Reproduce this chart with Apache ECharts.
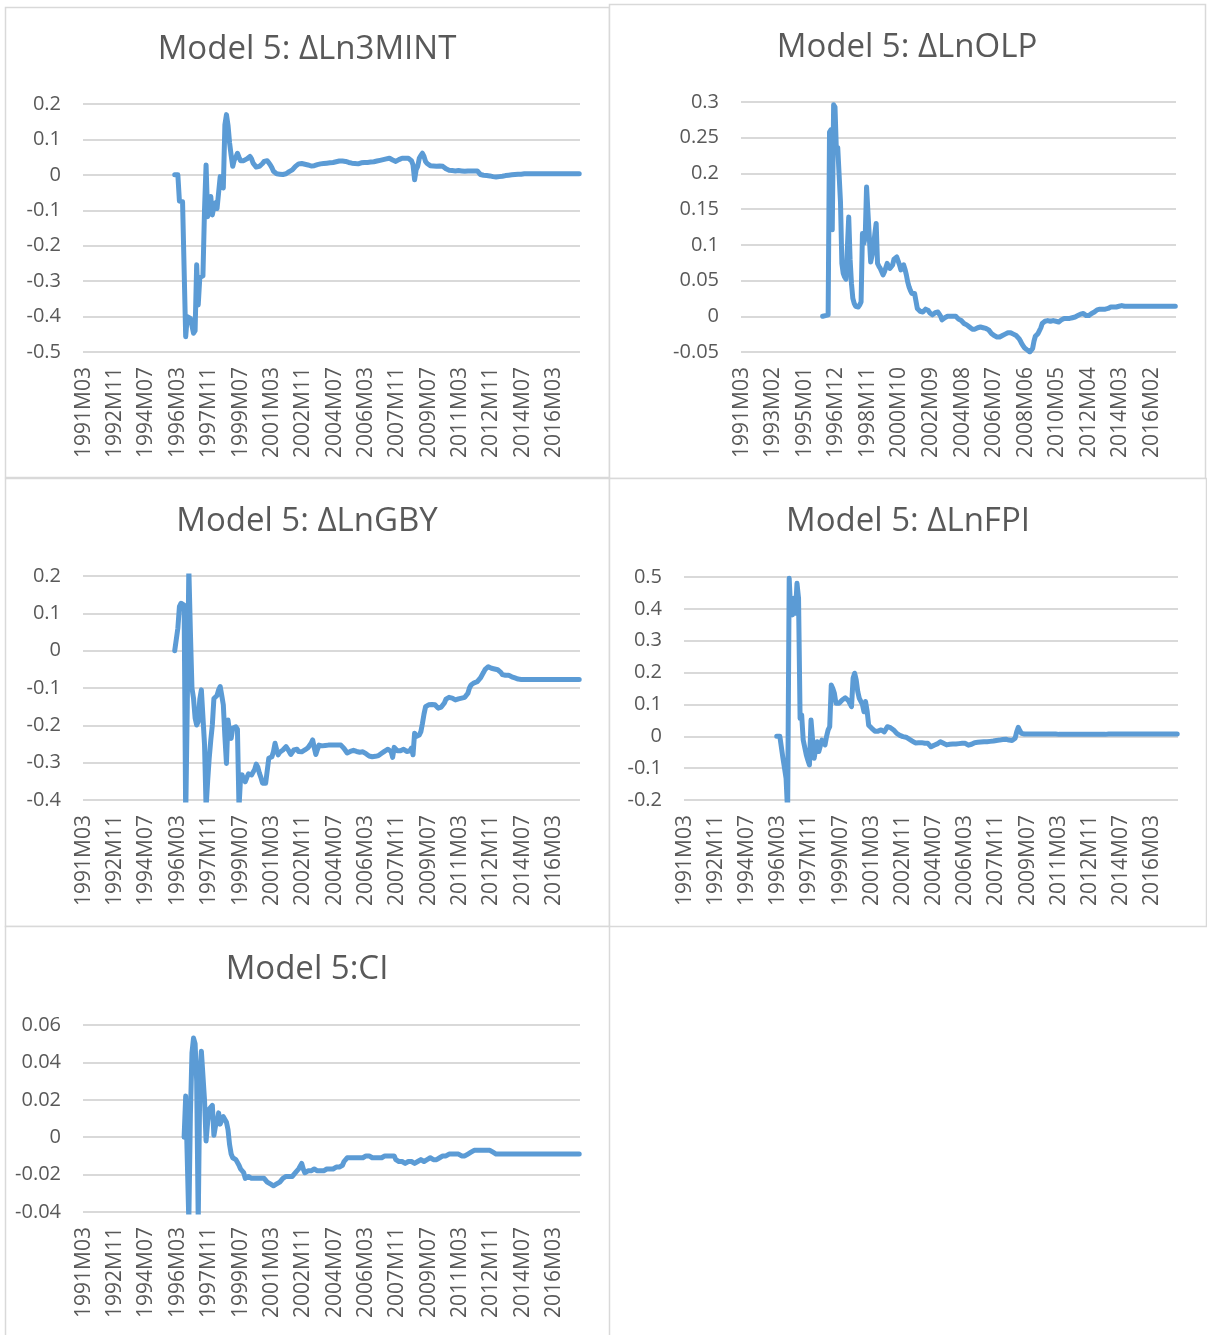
<!DOCTYPE html>
<html>
<head>
<meta charset="utf-8">
<title>Model 5 recursive estimates</title>
<script src="https://cdn.jsdelivr.net/npm/echarts@6/dist/echarts.min.js"></script>
<style>
  html, body { margin: 0; padding: 0; background: #ffffff; }
  #chart { width: 1207px; height: 1335px; }
</style>
</head>
<body>
<div id="chart"></div>
<script>
// Monthly categories 1991M03 .. 2017M07
const firstYear = 1991, firstMonth = 3, monthCount = 317;
const months = [];
for (let k = 0; k < monthCount; k++) {
  const m0 = firstMonth - 1 + k;
  const y = firstYear + Math.floor(m0 / 12);
  const m = (m0 % 12) + 1;
  months.push(y + 'M' + (m < 10 ? '0' + m : '' + m));
}

// Panel titles
const titleMINT = 'Model 5: ΔLn3MINT';
const titleOLP = 'Model 5: ΔLnOLP';
const titleGBY = 'Model 5: ΔLnGBY';
const titleFPI = 'Model 5: ΔLnFPI';
const titleCI = 'Model 5:CI';

// Y tick values per panel
const ticksMINT = [-0.5, -0.4, -0.3, -0.2, -0.1, 0, 0.1, 0.2];
const ticksOLP = [-0.05, 0, 0.05, 0.1, 0.15, 0.2, 0.25, 0.3];
const ticksGBY = [-0.4, -0.3, -0.2, -0.1, 0, 0.1, 0.2];
const ticksFPI = [-0.2, -0.1, 0, 0.1, 0.2, 0.3, 0.4, 0.5];
const ticksCI = [-0.04, -0.02, 0, 0.02, 0.04, 0.06];

// First month of each series
const startMINT = '1996M01';
const startOLP = '1996M02';
const startGBY = '1996M01';
const startFPI = '1996M02';
const startCI = '1996M07';

const valuesMINT = [
0.000,0.001,0.000,-0.074,-0.075,-0.076,-0.075,-0.457,-0.400,-0.400,
-0.405,-0.400,-0.447,-0.440,-0.254,-0.367,-0.290,-0.290,-0.285,-0.100,
0.028,-0.118,-0.090,-0.061,-0.113,-0.090,-0.079,-0.095,-0.099,-0.005,
-0.020,-0.037,0.141,0.170,0.140,0.090,0.055,0.024,0.042,0.050,
0.061,0.050,0.040,0.038,0.040,0.042,0.045,0.050,0.052,0.045,
0.033,0.028,0.022,0.019,0.024,0.028,0.032,0.038,0.042,0.040,
0.034,0.028,0.020,0.010,0.005,0.003,0.002,0.002,0.004,0.001,
0.000,0.003,0.006,0.009,0.011,0.014,0.018,0.024,0.027,0.031,
0.033,0.032,0.031,0.030,0.030,0.028,0.027,0.025,0.024,0.026,
0.028,0.029,0.030,0.031,0.031,0.032,0.033,0.033,0.034,0.034,
0.035,0.035,0.036,0.037,0.038,0.039,0.040,0.039,0.038,0.038,
0.036,0.035,0.034,0.033,0.033,0.032,0.030,0.031,0.033,0.034,
0.034,0.035,0.035,0.035,0.036,0.036,0.036,0.037,0.038,0.039,
0.040,0.041,0.042,0.043,0.044,0.045,0.046,0.047,0.045,0.042,
0.039,0.038,0.040,0.043,0.046,0.047,0.047,0.047,0.046,0.047,
0.047,0.040,0.028,-0.014,0.015,0.024,0.047,0.055,0.061,0.052,
0.038,0.032,0.027,0.026,0.025,0.025,0.024,0.024,0.024,0.025,
0.024,0.024,0.021,0.017,0.014,0.013,0.012,0.012,0.011,0.011,
0.011,0.012,0.011,0.011,0.011,0.010,0.011,0.011,0.011,0.011,
0.010,0.011,0.011,0.011,0.006,0.001,0.000,-0.001,-0.002,-0.002,
-0.003,-0.003,-0.004,-0.005,-0.005,-0.006,-0.006,-0.005,-0.004,-0.004,
-0.003,-0.002,-0.002,-0.001,-0.001,0.000,0.001,0.001,0.002,0.002,
0.002,0.002,0.003,0.003,0.003,0.003,0.003,0.003,0.003,0.003,
0.003,0.003,0.003,0.003,0.003,0.003,0.003,0.003,0.003,0.003,
0.003,0.003,0.003,0.003,0.003,0.003,0.003,0.003,0.003,0.003,
0.003,0.003,0.003,0.003,0.003,0.003,0.003,0.003,0.003
];

const valuesOLP = [
0.000,0.000,0.001,0.001,0.002,0.258,0.261,0.121,0.296,0.293,
0.233,0.236,0.235,0.160,0.074,0.060,0.055,0.052,0.051,0.139,
0.080,0.046,0.025,0.018,0.014,0.013,0.013,0.016,0.020,0.116,
0.102,0.110,0.181,0.179,0.111,0.076,0.085,0.097,0.115,0.130,
0.074,0.070,0.067,0.065,0.058,0.062,0.068,0.074,0.070,0.067,
0.065,0.072,0.080,0.081,0.083,0.083,0.072,0.065,0.068,0.072,
0.066,0.058,0.048,0.041,0.036,0.032,0.032,0.032,0.032,0.011,
0.009,0.007,0.006,0.006,0.008,0.010,0.011,0.008,0.005,0.003,
0.002,0.003,0.005,0.006,0.006,0.003,0.000,-0.005,-0.004,-0.002,
0.000,0.000,-0.001,0.000,-0.001,0.000,0.000,0.000,-0.002,-0.004,
-0.005,-0.006,-0.008,-0.010,-0.011,-0.012,-0.013,-0.015,-0.017,-0.018,
-0.018,-0.018,-0.017,-0.016,-0.015,-0.015,-0.015,-0.016,-0.017,-0.017,
-0.017,-0.019,-0.021,-0.024,-0.026,-0.027,-0.028,-0.029,-0.029,-0.029,
-0.028,-0.027,-0.026,-0.025,-0.024,-0.023,-0.023,-0.023,-0.024,-0.025,
-0.026,-0.027,-0.028,-0.031,-0.034,-0.038,-0.041,-0.044,-0.046,-0.047,
-0.049,-0.050,-0.050,-0.045,-0.035,-0.028,-0.026,-0.024,-0.022,-0.016,
-0.010,-0.008,-0.007,-0.006,-0.006,-0.006,-0.007,-0.006,-0.006,-0.007,
-0.007,-0.008,-0.008,-0.008,-0.005,-0.003,-0.003,-0.003,-0.003,-0.003,
-0.003,-0.002,-0.002,-0.001,-0.001,0.000,0.001,0.002,0.003,0.004,
0.004,0.002,0.001,0.000,0.001,0.003,0.004,0.005,0.006,0.008,
0.009,0.009,0.010,0.010,0.010,0.010,0.010,0.010,0.011,0.012,
0.013,0.013,0.013,0.013,0.013,0.013,0.014,0.014,0.015,0.015,
0.014,0.014,0.014,0.014,0.014,0.014,0.014,0.014,0.014,0.014,
0.014,0.014,0.014,0.014,0.014,0.014,0.014,0.014,0.014,0.014,
0.014,0.014,0.014,0.014,0.014,0.014,0.014,0.014,0.014,0.014,
0.014,0.014,0.014,0.014,0.014,0.014,0.014,0.014
];

const valuesGBY = [
0.000,0.002,0.060,0.118,0.127,0.125,0.122,-0.450,-0.150,0.220,
0.050,-0.100,-0.128,-0.180,-0.199,-0.190,-0.130,-0.105,-0.110,-0.250,
-0.420,-0.350,-0.288,-0.240,-0.199,-0.128,-0.125,-0.120,-0.105,-0.096,
-0.120,-0.145,-0.230,-0.302,-0.186,-0.220,-0.235,-0.208,-0.205,-0.204,
-0.210,-0.420,-0.340,-0.333,-0.345,-0.351,-0.340,-0.330,-0.328,-0.333,
-0.330,-0.318,-0.304,-0.312,-0.328,-0.340,-0.355,-0.352,-0.355,-0.355,
-0.288,-0.286,-0.284,-0.270,-0.248,-0.265,-0.279,-0.272,-0.268,-0.266,
-0.262,-0.257,-0.262,-0.270,-0.278,-0.272,-0.266,-0.261,-0.264,-0.270,
-0.275,-0.271,-0.268,-0.266,-0.263,-0.260,-0.257,-0.248,-0.239,-0.260,
-0.278,-0.265,-0.253,-0.254,-0.255,-0.254,-0.254,-0.253,-0.253,-0.254,
-0.253,-0.253,-0.253,-0.252,-0.253,-0.252,-0.253,-0.257,-0.262,-0.268,
-0.274,-0.275,-0.270,-0.266,-0.267,-0.269,-0.270,-0.271,-0.272,-0.271,
-0.271,-0.273,-0.276,-0.279,-0.282,-0.284,-0.284,-0.283,-0.283,-0.282,
-0.281,-0.278,-0.275,-0.272,-0.269,-0.266,-0.264,-0.262,-0.270,-0.286,
-0.259,-0.263,-0.268,-0.271,-0.268,-0.266,-0.264,-0.266,-0.270,-0.275,
-0.268,-0.261,-0.279,-0.221,-0.230,-0.235,-0.226,-0.217,-0.195,-0.170,
-0.150,-0.146,-0.145,-0.145,-0.144,-0.145,-0.145,-0.150,-0.154,-0.153,
-0.151,-0.150,-0.140,-0.130,-0.127,-0.125,-0.123,-0.127,-0.131,-0.132,
-0.130,-0.129,-0.128,-0.127,-0.126,-0.125,-0.120,-0.114,-0.100,-0.092,
-0.087,-0.086,-0.085,-0.083,-0.078,-0.073,-0.068,-0.058,-0.050,-0.046,
-0.043,-0.044,-0.047,-0.049,-0.049,-0.050,-0.051,-0.052,-0.058,-0.064,
-0.068,-0.066,-0.065,-0.066,-0.068,-0.070,-0.071,-0.073,-0.075,-0.076,
-0.077,-0.077,-0.077,-0.077,-0.077,-0.077,-0.077,-0.077,-0.077,-0.077,
-0.077,-0.077,-0.077,-0.077,-0.077,-0.077,-0.077,-0.077,-0.077,-0.077,
-0.077,-0.077,-0.077,-0.077,-0.077,-0.077,-0.077,-0.077,-0.077,-0.077,
-0.077,-0.077,-0.077,-0.077,-0.077,-0.077,-0.077,-0.077,-0.077
];

const valuesFPI = [
0.000,0.000,0.000,0.000,-0.069,-0.100,-0.132,-0.240,0.496,0.390,
0.381,0.433,0.386,0.480,0.433,0.056,0.067,-0.012,-0.006,-0.059,
-0.075,-0.090,0.051,0.046,-0.069,-0.040,-0.017,-0.048,-0.030,-0.012,
-0.020,-0.027,0.000,0.020,0.030,0.161,0.150,0.135,0.104,0.104,
0.104,0.108,0.114,0.117,0.121,0.118,0.112,0.109,0.093,0.182,
0.198,0.177,0.140,0.119,0.124,0.100,0.077,0.109,0.080,0.035,
0.030,0.025,0.020,0.016,0.014,0.016,0.018,0.020,0.017,0.014,
0.020,0.030,0.029,0.027,0.025,0.020,0.014,0.009,0.006,0.003,
0.000,-0.001,-0.002,-0.003,-0.006,-0.009,-0.012,-0.015,-0.018,-0.021,
-0.022,-0.020,-0.017,-0.020,-0.022,-0.022,-0.022,-0.022,-0.027,-0.033,
-0.030,-0.028,-0.027,-0.024,-0.020,-0.017,-0.017,-0.022,-0.026,-0.027,
-0.026,-0.025,-0.024,-0.024,-0.024,-0.024,-0.023,-0.023,-0.022,-0.022,
-0.022,-0.022,-0.022,-0.028,-0.033,-0.025,-0.020,-0.020,-0.019,-0.019,
-0.018,-0.018,-0.018,-0.017,-0.017,-0.017,-0.016,-0.016,-0.015,-0.015,
-0.014,-0.013,-0.013,-0.012,-0.011,-0.010,-0.010,-0.009,-0.010,-0.012,
-0.014,-0.013,-0.009,-0.006,0.014,0.028,0.018,0.009,0.008,0.007,
0.007,0.007,0.007,0.007,0.007,0.007,0.007,0.007,0.007,0.007,
0.007,0.007,0.007,0.007,0.007,0.007,0.007,0.007,0.007,0.007,
0.007,0.006,0.006,0.006,0.006,0.006,0.006,0.006,0.006,0.006,
0.006,0.006,0.006,0.006,0.006,0.006,0.006,0.006,0.006,0.006,
0.006,0.006,0.006,0.006,0.006,0.006,0.006,0.006,0.006,0.006,
0.006,0.006,0.006,0.007,0.007,0.007,0.007,0.007,0.007,0.007,
0.007,0.007,0.007,0.007,0.007,0.007,0.007,0.007,0.007,0.007,
0.007,0.007,0.007,0.007,0.007,0.007,0.007,0.007,0.007,0.007,
0.007,0.007,0.007,0.007,0.007,0.007,0.007,0.007,0.007,0.007,
0.007,0.007,0.007,0.007,0.007,0.007,0.007,0.007
];

const valuesCI = [
0.000,0.022,0.021,-0.045,0.012,0.045,0.053,0.050,0.030,-0.045,
0.030,0.046,0.047,0.020,-0.002,0.008,0.015,0.016,0.017,0.001,
0.006,0.008,0.013,0.007,0.009,0.011,0.010,0.008,0.004,-0.004,
-0.009,-0.011,-0.012,-0.012,-0.012,-0.015,-0.017,-0.017,-0.019,-0.022,
-0.021,-0.021,-0.022,-0.022,-0.022,-0.022,-0.022,-0.022,-0.022,-0.022,
-0.022,-0.022,-0.023,-0.024,-0.025,-0.025,-0.026,-0.026,-0.026,-0.025,
-0.024,-0.024,-0.023,-0.022,-0.022,-0.021,-0.020,-0.021,-0.022,-0.021,
-0.020,-0.019,-0.018,-0.017,-0.016,-0.014,-0.017,-0.019,-0.018,-0.018,
-0.018,-0.018,-0.017,-0.017,-0.018,-0.018,-0.018,-0.018,-0.018,-0.018,
-0.018,-0.017,-0.017,-0.017,-0.017,-0.017,-0.017,-0.016,-0.016,-0.016,
-0.016,-0.015,-0.013,-0.012,-0.011,-0.011,-0.011,-0.011,-0.011,-0.011,
-0.011,-0.011,-0.011,-0.011,-0.011,-0.010,-0.010,-0.010,-0.010,-0.010,
-0.011,-0.011,-0.011,-0.011,-0.011,-0.011,-0.011,-0.010,-0.010,-0.010,
-0.010,-0.010,-0.010,-0.009,-0.010,-0.012,-0.013,-0.013,-0.013,-0.013,
-0.014,-0.014,-0.014,-0.013,-0.013,-0.013,-0.013,-0.014,-0.014,-0.013,
-0.012,-0.012,-0.013,-0.013,-0.013,-0.012,-0.012,-0.011,-0.011,-0.012,
-0.012,-0.012,-0.012,-0.011,-0.011,-0.010,-0.010,-0.010,-0.009,-0.009,
-0.009,-0.009,-0.009,-0.009,-0.009,-0.009,-0.009,-0.010,-0.010,-0.010,
-0.009,-0.009,-0.009,-0.008,-0.008,-0.007,-0.007,-0.007,-0.007,-0.007,
-0.007,-0.007,-0.007,-0.007,-0.0065,-0.007,-0.008,-0.008,-0.008,-0.009,
-0.009,-0.009,-0.009,-0.009,-0.009,-0.009,-0.009,-0.009,-0.009,-0.009,
-0.009,-0.009,-0.009,-0.009,-0.009,-0.009,-0.009,-0.009,-0.009,-0.009,
-0.009,-0.009,-0.009,-0.009,-0.009,-0.009,-0.009,-0.009,-0.009,-0.009,
-0.009,-0.009,-0.009,-0.009,-0.009,-0.009,-0.009,-0.009,-0.009,-0.009,
-0.009,-0.009,-0.009,-0.009,-0.009,-0.009,-0.009,-0.009,-0.009,-0.009,
-0.009,-0.009,-0.009
];

// Place a series on the monthly axis, blank before its first month
function alignToMonths(startLabel, values) {
  const lead = months.indexOf(startLabel);
  const out = new Array(monthCount).fill(null);
  for (let k = 0; k < values.length && lead + k < monthCount; k++) out[lead + k] = values[k];
  return out;
}

const textColor = '#595959';
const gridColor = '#d9d9d9';
const lineColor = '#5b9bd5';
const labelFont = 'Open Sans';

// Panel layout: frame, title anchor, plot box, label interval
const panels = [
  { title: titleMINT, ticks: ticksMINT, start: startMINT, values: valuesMINT, every: 20,
    frame: [5, 7, 604, 470], titleAt: [307, 50], plot: { left: 83, top: 104, width: 497, height: 248 } },
  { title: titleOLP, ticks: ticksOLP, start: startOLP, values: valuesOLP, every: 23,
    frame: [609, 4, 596, 474], titleAt: [907, 48], plot: { left: 741, top: 102, width: 435, height: 250 } },
  { title: titleGBY, ticks: ticksGBY, start: startGBY, values: valuesGBY, every: 20,
    frame: [5, 478, 604, 448], titleAt: [307, 522], plot: { left: 83, top: 576, width: 497, height: 224 } },
  { title: titleFPI, ticks: ticksFPI, start: startFPI, values: valuesFPI, every: 20,
    frame: [609, 478, 597, 448], titleAt: [908, 522], plot: { left: 684, top: 577, width: 494, height: 223 } },
  { title: titleCI, ticks: ticksCI, start: startCI, values: valuesCI, every: 20,
    frame: [5, 926, 604, 412], titleAt: [307, 970], plot: { left: 83, top: 1025, width: 497, height: 187 } }
];

const grid = [], xAxis = [], yAxis = [], series = [], graphic = [];
panels.forEach((p, i) => {
  graphic.push({
    type: 'rect', silent: true, z: -1,
    shape: { x: p.frame[0] + 0.5, y: p.frame[1] + 0.5, width: p.frame[2], height: p.frame[3] },
    style: { fill: '#ffffff', stroke: gridColor, lineWidth: 1.5 }
  });
  graphic.push({
    type: 'text', silent: true,
    x: p.titleAt[0], y: p.titleAt[1],
    style: { text: p.title, fill: textColor, font: '33px "Open Sans"', align: 'center', verticalAlign: 'middle' }
  });
  grid.push(Object.assign({ containLabel: false }, p.plot));
  xAxis.push({
    type: 'category', gridIndex: i, data: months, boundaryGap: true,
    axisLine: { show: false }, axisTick: { show: false },
    axisLabel: {
      interval: p.every - 1, rotate: 90, margin: 15,
      color: textColor, fontFamily: labelFont, fontSize: 21
    },
    splitLine: { show: false }
  });
  const step = +(p.ticks[1] - p.ticks[0]).toFixed(6);
  yAxis.push({
    type: 'value', gridIndex: i,
    min: p.ticks[0], max: p.ticks[p.ticks.length - 1], interval: step,
    axisLine: { show: false }, axisTick: { show: false },
    axisLabel: {
      margin: 22, color: textColor, fontFamily: labelFont, fontSize: 20,
      formatter: v => String(+v.toFixed(4))
    },
    splitLine: { lineStyle: { color: gridColor, width: 2 } }
  });
  series.push({
    type: 'line', xAxisIndex: i, yAxisIndex: i,
    data: alignToMonths(p.start, p.values),
    showSymbol: false, symbol: 'none', clip: true, connectNulls: false,
    lineStyle: { color: lineColor, width: 5, cap: 'round', join: 'round' },
    animation: false
  });
});

const chart = echarts.init(document.getElementById('chart'), null, { renderer: 'canvas' });
chart.setOption({
  backgroundColor: '#ffffff',
  animation: false,
  graphic: graphic,
  grid: grid,
  xAxis: xAxis,
  yAxis: yAxis,
  series: series
});
</script>
</body>
</html>
